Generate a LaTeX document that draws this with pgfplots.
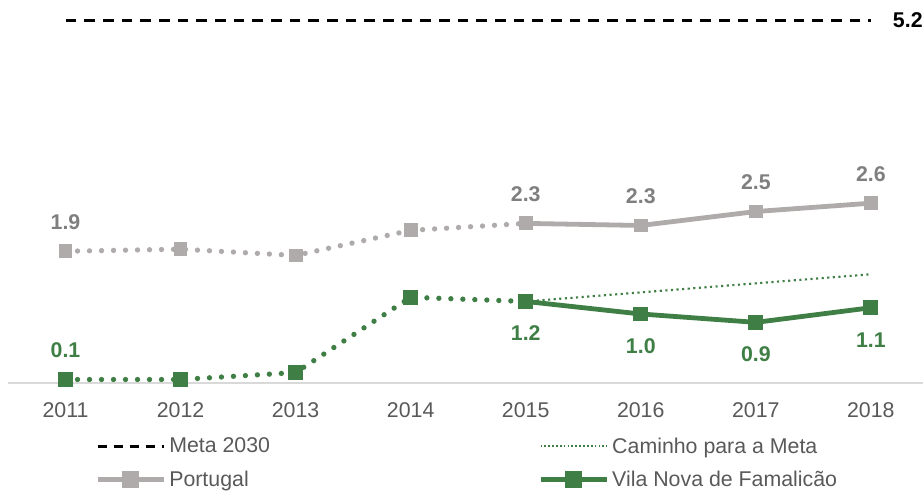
\documentclass[border=0pt]{standalone}
\usepackage{pgfplots}
\pgfplotsset{compat=1.18}
\usepackage{fontspec}
\setmainfont{Liberation Sans}
\definecolor{ptgray}{HTML}{AFABAB}
\definecolor{lblgray}{HTML}{7F7F7F}
\definecolor{vnf}{HTML}{3F7F45}
\definecolor{txt}{HTML}{595959}
\tikzset{
  ptdot/.style={ptgray, line width=4pt, line cap=round, dash pattern=on 0pt off 9pt},
  vnfdot/.style={vnf, line width=4pt, line cap=round, dash pattern=on 0pt off 9pt},
}
\newcommand{\chartfont}{\fontsize{16}{19}\selectfont}
\begin{document}
\begin{tikzpicture}
\begin{axis}[
  scale only axis, width=686pt, height=287pt,
  xmin=2010.5, xmax=2018.45, ymin=0, ymax=5.49,
  clip=false,
  axis y line=none, axis x line*=bottom,
  x axis line style={draw=black!15, line width=1.2pt, -},
  xtick={2011,...,2018}, major tick length=0pt,
  xticklabel style={/pgf/number format/1000 sep={}, /pgf/number format/assume math mode=true,
    font=\chartfont, text=txt, yshift=-11pt},
  legend style={at={(0.095,-0.135)}, anchor=north west, draw=none, fill=none,
    font=\chartfont, text=txt, legend columns=2,
    /tikz/every even column/.append style={column sep=199pt},
    row sep=8pt, inner sep=0pt},
  legend cell align=left,
  legend image code/.code={\draw[mark repeat=2,mark phase=2,#1] plot coordinates {(0pt,0pt) (25pt,0pt) (50pt,0pt)};},
]
\addlegendimage{black, line width=2.2pt, dash pattern=on 7pt off 5pt}
\addlegendentry{Meta 2030}
\addlegendimage{vnf, line width=1.3pt, dash pattern=on 1.3pt off 1.6pt}
\addlegendentry{Caminho para a Meta}
\addlegendimage{ptgray, line width=3.6pt, mark=square*, mark size=4.5pt, mark options={solid}}
\addlegendentry{Portugal}
\addlegendimage{vnf, line width=3.6pt, mark=square*, mark size=4.5pt, mark options={solid}}
\addlegendentry{Vila Nova de Famalicão}

% Meta 2030
\addplot[forget plot, black, line width=2.2pt, dash pattern=on 8pt off 6pt] coordinates {(2011,5.2) (2018,5.2)};
% Caminho para a Meta
\addplot[forget plot, vnf, line width=1.6pt, dash pattern=on 1.6pt off 2.6pt] coordinates {(2015,1.17) (2018,1.56)};
% Portugal
\addplot[forget plot, ptdot, mark=square*, mark size=4.8pt, mark options={solid, fill=ptgray, draw=ptgray, line width=0pt}]
  coordinates {(2011,1.89) (2012,1.92) (2013,1.83) (2014,2.19) (2015,2.29)};
\addplot[forget plot, ptgray, line width=3.6pt, mark=square*, mark size=4.8pt, mark options={solid, line width=0pt}]
  coordinates {(2015,2.29) (2016,2.26) (2017,2.46) (2018,2.58)};
% Vila Nova de Famalicao
\addplot[forget plot, vnfdot, mark=square*, mark size=5.2pt, mark options={solid, fill=vnf, draw=vnf, line width=0pt}]
  coordinates {(2011,0.05) (2012,0.05) (2013,0.15) (2014,1.23) (2015,1.17)};
\addplot[forget plot, vnf, line width=3.6pt, mark=square*, mark size=5.2pt, mark options={solid, line width=0pt}]
  coordinates {(2015,1.17) (2016,0.99) (2017,0.87) (2018,1.08)};

% labels
\addplot[forget plot, draw=none, nodes near coords, point meta=explicit symbolic,
  every node near coord/.style={anchor=center, yshift=22pt, text=lblgray, font=\chartfont\bfseries}]
  coordinates {(2011,1.89)[1.9] (2015,2.29)[2.3] (2016,2.26)[2.3] (2017,2.46)[2.5] (2018,2.58)[2.6]};
\addplot[forget plot, draw=none, nodes near coords, point meta=explicit symbolic,
  every node near coord/.style={anchor=center, yshift=22pt, text=vnf, font=\chartfont\bfseries}]
  coordinates {(2011,0.05)[0.1]};
\addplot[forget plot, draw=none, nodes near coords, point meta=explicit symbolic,
  every node near coord/.style={anchor=center, yshift=-24pt, text=vnf, font=\chartfont\bfseries}]
  coordinates {(2015,1.17)[1.2] (2016,0.99)[1.0] (2017,0.87)[0.9] (2018,1.08)[1.1]};
\addplot[forget plot, draw=none, nodes near coords, point meta=explicit symbolic,
  every node near coord/.style={anchor=west, xshift=13pt, text=black, font=\chartfont\bfseries}]
  coordinates {(2018,5.2)[5.2]};
\end{axis}
\pgfresetboundingbox
\path (-6pt,-82.5pt) rectangle (686.25pt,287.25pt);
\end{tikzpicture}
\end{document}
